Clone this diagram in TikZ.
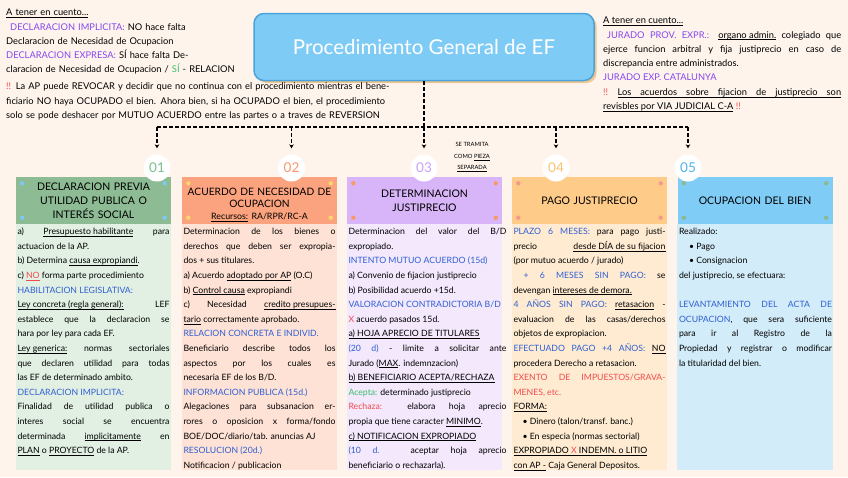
\documentclass[tikz,border=0pt]{standalone}
\usepackage{fontspec}
\setmainfont{Lato}
\usetikzlibrary{arrows.meta,shadows}
\setlength{\parindent}{0pt}

\definecolor{fondo}{HTML}{FEF4EC}
\definecolor{celeste}{HTML}{7ECBF6}
\definecolor{celesteborde}{HTML}{4BA3DA}
\definecolor{sombra}{HTML}{F0C68F}
\definecolor{violeta}{HTML}{8547F0}
\definecolor{azul}{HTML}{2F5FD3}
\definecolor{rojo}{HTML}{F24B4B}
\definecolor{verde}{HTML}{3DBE6A}
\definecolor{cabA}{HTML}{8DBB94}\definecolor{cuerpoA}{HTML}{E1F0E3}
\definecolor{cabB}{HTML}{FBA37F}\definecolor{cuerpoB}{HTML}{FEE2D5}
\definecolor{cabC}{HTML}{D8B5F8}\definecolor{cuerpoC}{HTML}{F3E8FC}
\definecolor{cabD}{HTML}{FECB89}\definecolor{cuerpoD}{HTML}{FEEBD2}
\definecolor{cabE}{HTML}{7FCCF6}\definecolor{cuerpoE}{HTML}{D3ECF9}
\definecolor{puntoA}{HTML}{7FC8F2}
\definecolor{puntoB}{HTML}{F9D66E}
\definecolor{puntoC}{HTML}{F99A66}
\definecolor{puntoD}{HTML}{F49A8B}
\definecolor{puntoE}{HTML}{8DB98F}
\definecolor{numA}{HTML}{7DBF8E}
\definecolor{numB}{HTML}{F7976A}
\definecolor{numC}{HTML}{C9A0F5}
\definecolor{numD}{HTML}{F8C46F}
\definecolor{numE}{HTML}{4FB3EC}

\newsavebox{\cajasub}
\newcommand{\subrayar}[1]{\leavevmode\sbox{\cajasub}{#1}\rlap{\rule[-1.8pt]{\wd\cajasub}{0.5pt}}\usebox{\cajasub}}
% espacio subrayado que se estira
\newcommand{\esp}{\leaders\hrule height -1.8pt depth 2.3pt\hskip 0.27em plus 0.4em minus 0.08em\relax}
\newcommand{\txtazul}[1]{\textcolor{azul}{#1}}
\newcommand{\txtrojo}[1]{\textcolor{rojo}{#1}}
\newcommand{\txtverde}[1]{\textcolor{verde}{#1}}
\newcommand{\txtvioleta}[1]{\textcolor{violeta}{#1}}
\newcommand{\fuentecuerpo}{\fontsize{8.7}{14.6}\selectfont\hyphenpenalty=10000\relax}
\newcommand{\fuentenota}{\fontsize{9.3}{14.3}\selectfont\hyphenpenalty=10000\relax}

\tikzset{
  titulo/.style={rounded corners=10pt, fill=celeste, draw=celesteborde, line width=1.5pt,
    minimum width=340pt, minimum height=67pt, text=white, font=\fontsize{20.5}{20.5}\selectfont,
    drop shadow={shadow xshift=2.5pt, shadow yshift=-2.5pt, fill=sombra, opacity=1}},
  guia/.style={draw=black, line width=1.3pt, dash pattern=on 4pt off 2pt},
  flecha/.style={-{Stealth[length=4pt,width=4.5pt]}, shorten >=6pt},
  cabecera/.style={minimum width=155pt, minimum height=47pt, inner sep=0pt,
    text width=150pt, align=center, font=\fontsize{10.5}{14}\selectfont},
  cabtexto/.style={inner sep=0pt, text width=150pt, align=center,
    font=\fontsize{10.2}{11.6}\selectfont},
  circulo/.style={circle, fill=white, minimum size=27pt, inner sep=0pt,
    font=\fontsize{13.5}{13.5}\selectfont},
  texto/.style={anchor=north west, inner xsep=1.5pt, inner ysep=0pt, align=justify,
    font=\fuentecuerpo},
  nota/.style={anchor=north west, inner sep=0pt, font=\fuentenota},
  pieza/.style={align=center, inner sep=0pt, font=\fontsize{5.8}{11.5}\selectfont}
}

\begin{document}
\begin{tikzpicture}[x=1pt, y=-1pt]
\fill[fondo] (0,0) rectangle (848,477);
\useasboundingbox (0,0) rectangle (848,477);

% titulo
\node[titulo] (titulo) at (424,47) {Procedimiento General de EF};
\coordinate (eje) at (424,127);
\coordinate (fin) at (0,470);

% notas superiores
\node[nota, text width=300pt, align=left] (notaizq) at (6,5.5) {\strut\subrayar{A tener en cuento...}\\
\hspace*{4pt}\txtvioleta{DECLARACION IMPLICITA:} NO hace falta\\
Declaracion de Necesidad de Ocupacion\\
\txtvioleta{DECLARACION EXPRESA:} SÍ hace falta De-\\
claracion de Necesidad de Ocupacion / \txtverde{SÍ} - RELACION};

\node[nota, text width=430pt, align=left] (notarevocar) at (6,79.5) {\strut\txtrojo{!!} La AP puede REVOCAR y decidir que no continua con el procedimiento mientras el bene-\\
ficiario NO haya OCUPADO el bien. Ahora bien, si ha OCUPADO el bien, el procedimiento\\
solo se pode deshacer por MUTUO ACUERDO entre las partes o a traves de REVERSION};

\node[nota, text width=238pt, align=justify] (notader) at (603,13.5) {\strut\subrayar{A tener en cuento...}\par
\hspace*{4pt}\txtvioleta{JURADO PROV. EXPR.:} \subrayar{organo admin.} colegiado que\linebreak
ejerce funcion arbitral y fija justiprecio en caso de\linebreak
discrepancia entre administrados.\par
\txtvioleta{JURADO EXP. CATALUNYA}\par
\txtrojo{!!} \subrayar{Los}\esp\subrayar{acuerdos}\esp\subrayar{sobre}\esp\subrayar{fijacion}\esp\subrayar{de}\esp\subrayar{justiprecio}\esp\subrayar{son}\linebreak
\subrayar{revisbles por VIA JUDICIAL C-A} \txtrojo{!!}};

\node[pieza] (pieza) at (472,157) {SE TRAMITA\\COMO \subrayar{PIEZA}\\\subrayar{SEPARADA}};

% cabeceras
\node[cabecera, fill=cabA] (cab1) at (93.5,200.5) {DECLARACION PREVIA\\UTILIDAD PUBLICA O\\INTERÉS SOCIAL};
\node[cabecera, fill=cabB] (cab2) at (259.5,200.5) {};
\node[cabtexto] (cab2t) at ([yshift=-4.5pt]cab2.center) {ACUERDO DE NECESIDAD DE\\OCUPACION\\[1pt]{\fontsize{8.8}{11}\selectfont\subrayar{Recursos:} RA/RPR/RC-A}};
\node[cabecera, fill=cabC] (cab3) at (424.5,200.5) {DETERMINACION\\JUSTIPRECIO};
\node[cabecera, fill=cabD] (cab4) at (589.5,200.5) {PAGO JUSTIPRECIO};
\node[cabecera, fill=cabE] (cab5) at (755,200.5) {OCUPACION DEL BIEN};

\foreach \c/\f in {cab1/cuerpoA, cab2/cuerpoB, cab3/cuerpoC, cab4/cuerpoD, cab5/cuerpoE}
  \fill[\f] (\c.south west) rectangle (\c.east |- fin);

\foreach \c/\p in {cab1/puntoA, cab2/puntoB, cab3/puntoC, cab4/puntoD, cab5/puntoE}{
  \fill[\p] ([shift={(6.5pt,-6.5pt)}]\c.north west) circle (2.2pt);
  \fill[\p] ([shift={(-6.5pt,-6.5pt)}]\c.north east) circle (2.2pt);
  \fill[\p] ([shift={(6.5pt,6.5pt)}]\c.south west) circle (2.2pt);
  \fill[\p] ([shift={(-6.5pt,6.5pt)}]\c.south east) circle (2.2pt);
}

% columnas
\node[texto, text width=152pt] (txt1) at (cab1.south west) {\strut a) \subrayar{Presupuesto habilitante} para\linebreak
actuacion de la AP.\par
b) Determina \subrayar{causa expropiandi}.\par
c) \txtrojo{\subrayar{NO}} forma parte procedimiento\par
\txtazul{HABILITACION LEGISLATIVA:}\par
\subrayar{Ley concreta (regla general):} LEF\linebreak
establece que la declaracion se\linebreak
hara por ley para cada EF.\par
\subrayar{Ley generica:} normas sectoriales\linebreak
que declaren utilidad para todas\linebreak
las EF de determinado ambito.\par
\txtazul{DECLARACION IMPLICITA:}\par
Finalidad de utilidad publica o\linebreak
interes social se encuentra\linebreak
determinada \subrayar{implicitamente} en\linebreak
\subrayar{PLAN} o \subrayar{PROYECTO} de la AP.};

\node[texto, text width=152pt] (txt2) at (cab2.south west) {\strut Determinacion de los bienes o\linebreak
derechos que deben ser expropia-\linebreak
dos + sus titulares.\par
a) Acuerdo \subrayar{adoptado por AP} (O.C)\par
b) \subrayar{Control causa} expropiandi\par
c) Necesidad \subrayar{credito presupues-}\linebreak
\subrayar{tario} correctamente aprobado.\par
\txtazul{RELACION CONCRETA E INDIVID.}\par
Beneficiario describe todos los\linebreak
aspectos por los cuales es\linebreak
necesaria EF de los B/D.\par
\txtazul{INFORMACION PUBLICA (15d.)}\par
Alegaciones para subsanacion er-\linebreak
rores o oposicion x forma/fondo\linebreak
BOE/DOC/diario/tab. anuncias AJ\par
\txtazul{RESOLUCION (20d.)}\par
Notificacion / publicacion};

\node[texto, text width=158pt] (txt3) at (cab3.south west) {\strut Determinacion del valor del B/D\linebreak
expropiado.\par
\txtazul{INTENTO MUTUO ACUERDO (15d)}\par
a) Convenio de fijacion justiprecio\par
b) Posibilidad acuerdo +15d.\par
\txtazul{VALORACION CONTRADICTORIA B/D}\par
\txtrojo{X} acuerdo pasados 15d.\par
\subrayar{a) HOJA APRECIO DE TITULARES}\par
\txtazul{(20 d)} - limite a solicitar ante\linebreak
Jurado (\subrayar{MAX}. indemnzacion)\par
\subrayar{b) BENEFICIARIO ACEPTA/RECHAZA}\par
\txtverde{Acepta:} determinado justiprecio\par
\txtrojo{Rechaza:} elabora hoja aprecio\linebreak
propia que tiene caracter \subrayar{MINIMO}.\par
\subrayar{c) NOTIFICACION EXPROPIADO}\par
\txtazul{(10 d.} aceptar hoja aprecio\linebreak
beneficiario o rechazarla).};

\node[texto, text width=152pt] (txt4) at (cab4.south west) {\strut\txtazul{PLAZO 6 MESES:} para pago justi-\linebreak
precio \subrayar{desde DÍA de su fijacion}\linebreak
(por mutuo acuerdo / jurado)\par
\hspace*{10pt}\txtazul{+ 6 MESES SIN PAGO:} se\linebreak
devengan \subrayar{intereses de demora.}\par
\txtazul{4 AÑOS SIN PAGO:} \subrayar{retasacion} -\linebreak
evaluacion de las casas/derechos\linebreak
objetos de expropiacion.\par
\txtazul{EFECTUADO PAGO +4 AÑOS:} \subrayar{NO}\linebreak
procedera Derecho a retasacion.\par
\txtrojo{EXENTO DE IMPUESTOS/GRAVA-}\linebreak
\txtrojo{MENES, etc.}\par
\subrayar{FORMA:}\par
\hspace*{9pt}\textbullet\ Dinero (talon/transf. banc.)\par
\hspace*{9pt}\textbullet\ En especia (normas sectorial)\par
\subrayar{EXPROPIADO \txtrojo{X} INDEMN. o LITIO}\linebreak
\subrayar{con AP -} Caja General Depositos.};

\node[texto, text width=153pt] (txt5) at (cab5.south west) {\strut Realizado:\par
\hspace*{10pt}\textbullet\ Pago\par
\hspace*{10pt}\textbullet\ Consignacion\par
del justiprecio, se efectuara:\par
\mbox{}\par
\txtazul{LEVANTAMIENTO DEL ACTA DE}\linebreak
\txtazul{OCUPACION}, que sera suficiente\linebreak
para ir al Registro de la\linebreak
Propiedad y registrar o modificar\linebreak
la titularidad del bien.};

% numeros
\node[circulo, text=numA] (num1) at (157,168) {01};
\node[circulo, text=numB] (num2) at (291.5,168) {02};
\node[circulo, text=numC] (num3) at (424,168) {03};
\node[circulo, text=numD] (num4) at (556,168) {04};
\node[circulo, text=numE] (num5) at (688,168) {05};

% lineas guia
\draw[guia] (titulo.south) -- (eje);
\draw[guia] (num1 |- eje) -- (num5 |- eje);
\foreach \i in {1,...,5}
  \draw[guia, flecha] (num\i |- eje) -- (num\i.north);
\end{tikzpicture}
\end{document}
